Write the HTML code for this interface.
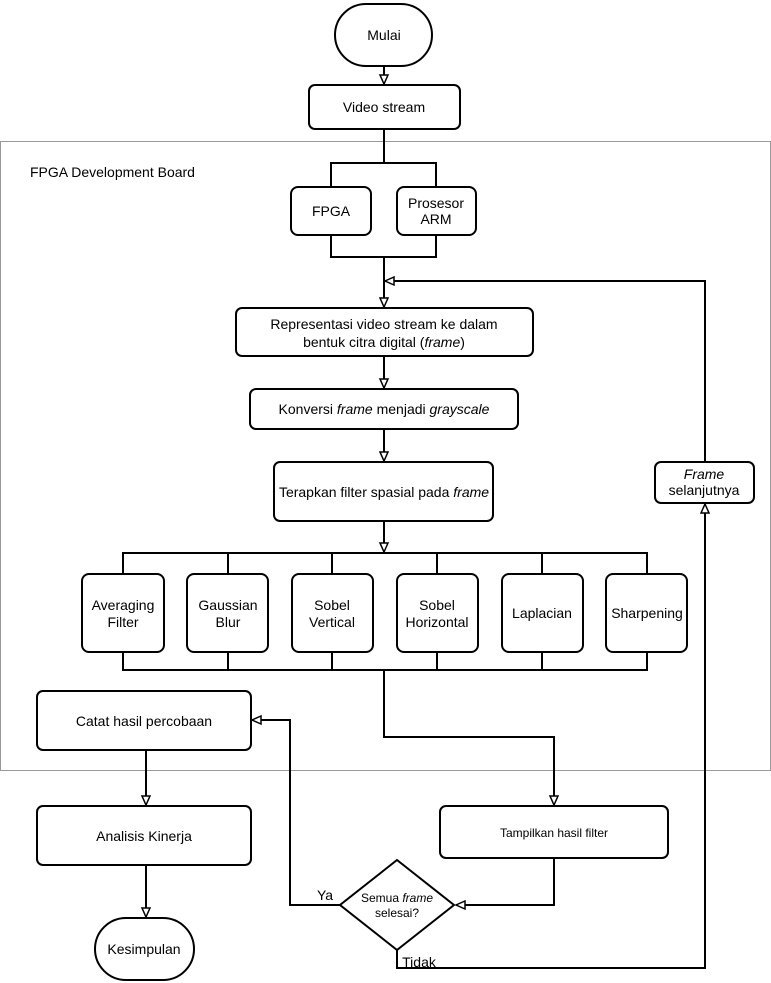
<!DOCTYPE html>
<html><head><meta charset="utf-8"><style>
html,body{margin:0;padding:0;background:#fff}
svg{display:block;font-family:"Liberation Sans",Arial,sans-serif}
</style></head><body>
<svg width="771" height="983" viewBox="0 0 771 983" xmlns="http://www.w3.org/2000/svg">
<defs>
<marker id="a" markerWidth="12" markerHeight="12" refX="10" refY="5" orient="auto" markerUnits="userSpaceOnUse" viewBox="0 0 12 10">
<path d="M1,1 L10,5 L1,9 Z" fill="#fff" stroke="#000" stroke-width="1.5"/>
</marker>
</defs>
<rect x="0.5" y="141.5" width="770" height="629" fill="none" stroke="#999" stroke-width="1"/>
<text x="30" y="177" font-size="14">FPGA Development Board</text>
<g fill="none" stroke="#000" stroke-width="2">
<line x1="384" y1="66" x2="384" y2="84" marker-end="url(#a)"/>
<polyline points="384,129 384,163"/>
<polyline points="331,187 331,163 436,163 436,187"/>
<polyline points="331,235 331,257 436,257 436,235"/>
<line x1="384" y1="257" x2="384" y2="307" marker-end="url(#a)"/>
<line x1="384" y1="356" x2="384" y2="388" marker-end="url(#a)"/>
<line x1="384" y1="429" x2="384" y2="461" marker-end="url(#a)"/>
<line x1="384" y1="521" x2="384" y2="552" marker-end="url(#a)"/>
<polyline points="123,574 123,553 647,553 647,574"/>
<line x1="228" y1="553" x2="228" y2="574"/><line x1="332" y1="553" x2="332" y2="574"/>
<line x1="437" y1="553" x2="437" y2="574"/><line x1="542" y1="553" x2="542" y2="574"/>
<polyline points="123,652 123,670 647,670 647,652"/>
<line x1="228" y1="652" x2="228" y2="670"/><line x1="332" y1="652" x2="332" y2="670"/>
<line x1="437" y1="652" x2="437" y2="670"/><line x1="542" y1="652" x2="542" y2="670"/>
<polyline points="384,670 384,737 554,737 554,805" marker-end="url(#a)"/>
<polyline points="554,858 554,905 456,905" marker-end="url(#a)"/>
<polyline points="340,905 290,905 290,720 252,720" marker-end="url(#a)"/>
<line x1="146" y1="750" x2="146" y2="805" marker-end="url(#a)"/>
<line x1="146" y1="865" x2="146" y2="917" marker-end="url(#a)"/>
<polyline points="397,950 397,968 705,968 705,504" marker-end="url(#a)"/>
<polyline points="705,462 705,281 385,281" marker-end="url(#a)"/>
</g>
<g fill="#fff" stroke="#000" stroke-width="2">
<rect x="335" y="4" width="97" height="62" rx="31"/>
<rect x="309" y="85" width="151" height="44" rx="6"/>
<rect x="291" y="187" width="80" height="48" rx="7"/>
<rect x="397" y="187" width="79" height="48" rx="7"/>
<rect x="236" y="308" width="297" height="48" rx="6"/>
<rect x="250" y="389" width="268" height="40" rx="6"/>
<rect x="274" y="462" width="219" height="59" rx="6"/>
<rect x="82" y="574" width="82" height="78" rx="7"/>
<rect x="187" y="574" width="81" height="78" rx="7"/>
<rect x="292" y="574" width="81" height="78" rx="7"/>
<rect x="397" y="574" width="81" height="78" rx="7"/>
<rect x="502" y="574" width="81" height="78" rx="7"/>
<rect x="606" y="574" width="81" height="78" rx="7"/>
<rect x="37" y="691" width="214" height="59" rx="6"/>
<rect x="37" y="806" width="214" height="59" rx="6"/>
<rect x="95" y="918" width="99" height="62" rx="31"/>
<rect x="440" y="806" width="228" height="52" rx="6"/>
<rect x="655" y="462" width="99" height="41" rx="6"/>
<polygon points="397,860 454,905 397,950 340,905"/>
</g>
<g font-size="14" text-anchor="middle" fill="#000">
<text x="384" y="40">Mulai</text>
<text x="384" y="112">Video stream</text>
<text x="331" y="216">FPGA</text>
<text x="436" y="208">Prosesor</text><text x="436" y="224">ARM</text>
<text x="384" y="329">Representasi video stream ke dalam</text>
<text x="384" y="347">bentuk citra digital (<tspan font-style="italic">frame</tspan>)</text>
<text x="384" y="414">Konversi <tspan font-style="italic">frame</tspan> menjadi <tspan font-style="italic">grayscale</tspan></text>
<text x="384" y="497">Terapkan filter spasial pada <tspan font-style="italic">frame</tspan></text>
<text x="123" y="610">Averaging</text><text x="123" y="627">Filter</text>
<text x="228" y="610">Gaussian</text><text x="228" y="627">Blur</text>
<text x="332" y="610">Sobel</text><text x="332" y="627">Vertical</text>
<text x="437" y="610">Sobel</text><text x="437" y="627">Horizontal</text>
<text x="542" y="618">Laplacian</text>
<text x="647" y="618">Sharpening</text>
<text x="144" y="726">Catat hasil percobaan</text>
<text x="144" y="841">Analisis Kinerja</text>
<text x="144" y="954">Kesimpulan</text>
<text x="704" y="479"><tspan font-style="italic">Frame</tspan></text>
<text x="704" y="495">selanjutnya</text>
<text x="325" y="900">Ya</text>
<text x="419" y="967">Tidak</text>
</g>
<g font-size="12" text-anchor="middle">
<text x="554" y="837">Tampilkan hasil filter</text>
<text x="397" y="902">Semua <tspan font-style="italic">frame</tspan></text>
<text x="397" y="917">selesai?</text>
</g>
</svg>
</body></html>
